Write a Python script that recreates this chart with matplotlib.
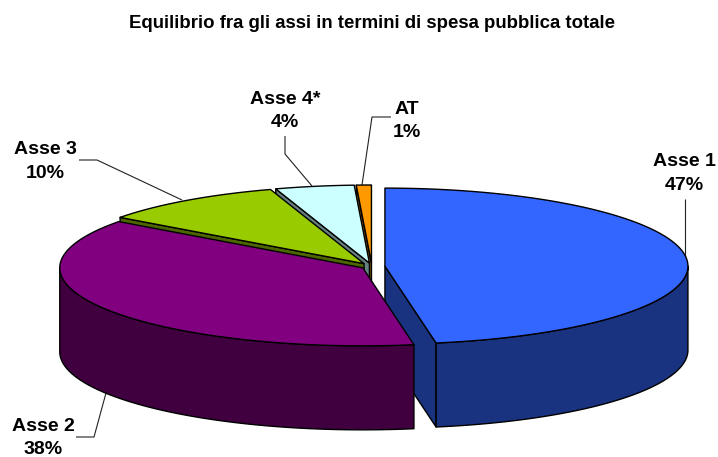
"""Exploded 3D pie, drawn from the slice shares in pixel space of the figure."""
import numpy as np
import matplotlib
matplotlib.use('Agg')
import matplotlib.pyplot as plt
from matplotlib.patches import Polygon

# ── data ─────────────────────────────────────────────────────────────────────
labels = ['Asse 1', 'Asse 2', 'Asse 3', 'Asse 4*', 'AT']
shares = [47.3, 37.8, 9.9, 4.2, 0.8]
pct_labels = ['47%', '38%', '10%', '4%', '1%']
top_colors = ['#3366FF', '#800080', '#99CC00', '#CCFFFF', '#FF9900']
side_colors = ['#1A3380', '#400040', '#4D6600', '#668080', '#804D00']
explode = [0.0435, 0.035, 0.0435, 0.0435, 0.0435]

# ── layout (pixels) ──────────────────────────────────────────────────────────
W, H = 718, 457
CX, CY = 371.8, 266.4
RX, RY = 303.0, 78.0
DEPTH = 84.0

plt.rcParams['font.family'] = ['Liberation Sans', 'DejaVu Sans']
fig = plt.figure(figsize=(W / 100, H / 100), dpi=100)
ax = fig.add_axes([0, 0, 1, 1])
ax.set_xlim(0, W)
ax.set_ylim(H, 0)
ax.axis('off')


def rim_point(apex, t):
    return apex[0] + RX * np.sin(t), apex[1] - RY * np.cos(t)


def face(pts, color, z):
    ax.add_patch(Polygon(pts, closed=True, fc=color, ec='black', lw=1.0,
                         joinstyle='round', zorder=z))


# ── slices, back to front ────────────────────────────────────────────────────
edges = np.radians(np.cumsum([0.0] + shares) * 3.6)
draw_order = [4, 3, 2, 0, 1]

for z, i in enumerate(draw_order):
    t0, t1 = edges[i], edges[i + 1]
    mid = 0.5 * (t0 + t1)
    apex = (CX + explode[i] * RX * np.sin(mid), CY - explode[i] * RY * np.cos(mid))
    base = z * 10 + 2

    # radial cut faces: only the ones with open space below their top edge
    for t, sign in ((t0, -1), (t1, 1)):
        if sign * np.sin(t) > 1e-6:
            px, py = rim_point(apex, t)
            face([apex, (px, py), (px, py + DEPTH), (apex[0], apex[1] + DEPTH)],
                 side_colors[i], base)

    # outer wall, only the part that faces the viewer
    lo, hi = max(t0, np.pi / 2), min(t1, 3 * np.pi / 2)
    if hi > lo:
        ts = np.linspace(lo, hi, 120)
        xs, ys = rim_point(apex, ts)
        wall = list(zip(xs, ys)) + list(zip(xs[::-1], ys[::-1] + DEPTH))
        face(wall, side_colors[i], base + 1)

    # top surface
    ts = np.linspace(t0, t1, 200)
    xs, ys = rim_point(apex, ts)
    face([apex] + list(zip(xs, ys)), top_colors[i], base + 2)

# ── leader lines (pixels) ────────────────────────────────────────────────────
leaders = [
    ([685, 685], [199, 262]),
    ([76, 94, 106], [437, 437, 393]),
    ([79, 97, 182], [160, 160, 200]),
    ([285, 285, 312], [136, 154, 186]),
    ([391, 372, 362], [117, 117, 185]),
]
for xs, ys in leaders:
    ax.plot(xs, ys, color='#222222', lw=0.8, zorder=1, solid_capstyle='butt')

# ── text ─────────────────────────────────────────────────────────────────────
label_pos = [(684, 173.5), (43, 438), (45, 161.5), (285, 111), (407, 121)]
for name, pct, (x, y) in zip(labels, pct_labels, label_pos):
    ax.text(x, y, f'{name}\n{pct}', ha='center', va='center', fontsize=14,
            fontweight='bold', linespacing=1.49, zorder=100)

ax.text(372, 24, 'Equilibrio fra gli assi in termini di spesa pubblica totale',
        ha='center', va='center', fontsize=13.4, fontweight='bold')

fig.savefig('out.png', dpi=100, facecolor='white')
